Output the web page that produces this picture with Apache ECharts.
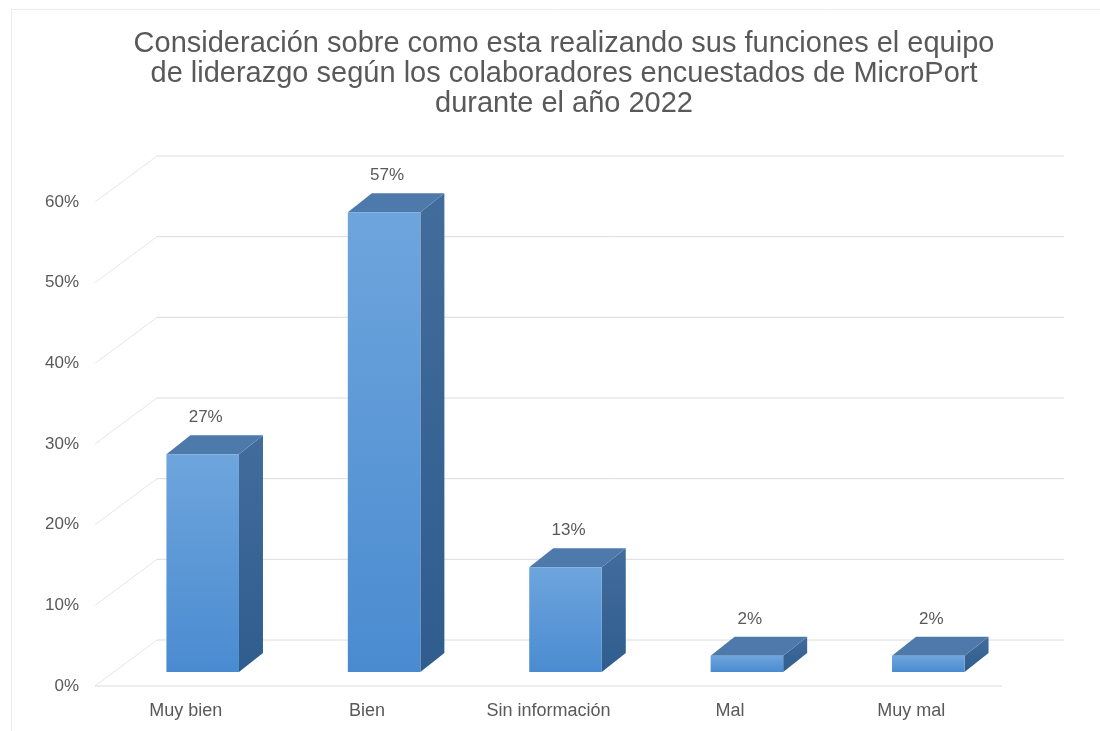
<!DOCTYPE html>
<html>
<head>
<meta charset="utf-8">
<script src="https://cdn.jsdelivr.net/npm/echarts@6/dist/echarts.min.js"></script>
<style>
  html, body { margin: 0; padding: 0; background: #ffffff; }
  #chart { width: 1100px; height: 731px; }
</style>
</head>
<body>
<div id="chart"></div>
<script>
// Survey results: how leadership is doing, as rated by MicroPort staff (2022)
const categories = ['Muy bien', 'Bien', 'Sin información', 'Mal', 'Muy mal'];
const values = [27, 57, 13, 2, 2];
const yTicks = [0, 10, 20, 30, 40, 50, 60];
const titleLines = [
  'Consideración sobre como esta realizando sus funciones el equipo',
  'de liderazgo según los colaboradores encuestados de MicroPort',
  'durante el año 2022'
];

// Oblique projection used for the 3D look
const WALL_DX = 62, WALL_DY = -46;        // floor depth (front edge -> back wall)
const BAR_OFF_X = 17, BAR_OFF_Y = -14;    // bars stand a little behind the front edge
const BAR_DEPTH_X = 24, BAR_DEPTH_Y = -19; // thickness of each bar

const TEXT = '#595959';
const FONT = 'Liberation Sans, Arial, sans-serif';

const chart = echarts.init(document.getElementById('chart'), null, { renderer: 'canvas' });

function renderGridLine(params, api) {
  const cs = params.coordSys;
  const v = api.value(1);
  const y = api.coord([0, v])[1];
  const lineStyle = { stroke: '#dcdcdc', lineWidth: 1, fill: null };
  const children = [
    {
      type: 'polyline',
      shape: { points: [[cs.x, y], [cs.x + WALL_DX, y + WALL_DY]] },
      style: { stroke: '#e6e6e6', lineWidth: 1, fill: null },
      silent: true
    },
    {
      type: 'polyline',
      shape: { points: [[cs.x + WALL_DX, y + WALL_DY], [cs.x + cs.width + WALL_DX, y + WALL_DY]] },
      style: lineStyle,
      silent: true
    }
  ];
  if (v === 0) {
    children.push({
      type: 'polyline',
      shape: { points: [[cs.x, y], [cs.x + cs.width, y]] },
      style: lineStyle,
      silent: true
    });
  }
  return { type: 'group', children: children };
}

function renderBar(params, api) {
  const i = api.value(0);
  const v = api.value(1);
  const base = api.coord([i, 0]);
  const top = api.coord([i, v]);
  const bw = api.size([1, 0])[0] * 0.4;
  const x0 = base[0] - bw / 2 + BAR_OFF_X;
  const x1 = x0 + bw;
  const yb = base[1] + BAR_OFF_Y;
  const yt = top[1] + BAR_OFF_Y;
  const dx = BAR_DEPTH_X, dy = BAR_DEPTH_Y;

  const frontFill = new echarts.graphic.LinearGradient(0, 0, 0, 1, [
    { offset: 0, color: '#6ea5dd' },
    { offset: 1, color: '#4a8bd0' }
  ]);
  const sideFill = new echarts.graphic.LinearGradient(0, 0, 0, 1, [
    { offset: 0, color: '#426c9c' },
    { offset: 1, color: '#2f5d8e' }
  ]);

  return {
    type: 'group',
    children: [
      {
        type: 'polygon',
        shape: { points: [[x1, yt], [x1 + dx, yt + dy], [x1 + dx, yb + dy], [x1, yb]] },
        style: { fill: sideFill }
      },
      {
        type: 'polygon',
        shape: { points: [[x0, yt], [x0 + dx, yt + dy], [x1 + dx, yt + dy], [x1, yt]] },
        style: { fill: '#4e7aab' }
      },
      {
        type: 'rect',
        shape: { x: x0, y: yt, width: bw, height: yb - yt },
        style: { fill: frontFill }
      },
      {
        type: 'text',
        style: {
          text: v + '%',
          x: (x0 + x1) / 2 + 3,
          y: yt + dy - 18,
          align: 'center',
          verticalAlign: 'middle',
          fill: TEXT,
          fontSize: 17,
          fontFamily: FONT
        }
      }
    ]
  };
}

const option = {
  backgroundColor: '#ffffff',
  animation: false,
  title: {
    text: titleLines.join('\n'),
    left: 559,
    top: 24,
    textAlign: 'center',
    textStyle: {
      color: TEXT,
      fontSize: 29,
      lineHeight: 30,
      fontWeight: 'normal',
      fontFamily: FONT
    }
  },
  graphic: [
    {
      type: 'rect',
      left: 9,
      top: 7,
      shape: { width: 1200, height: 800 },
      style: { fill: null, stroke: '#ececec', lineWidth: 1 },
      silent: true,
      z: -10
    }
  ],
  grid: { left: 95, right: 98, top: 202, bottom: 45, containLabel: false },
  xAxis: {
    type: 'category',
    data: categories,
    axisLine: { show: false },
    axisTick: { show: false },
    splitLine: { show: false },
    axisLabel: { color: TEXT, fontSize: 18, fontFamily: FONT, margin: 16 }
  },
  yAxis: {
    type: 'value',
    min: 0,
    max: 60,
    interval: 10,
    axisLine: { show: false },
    axisTick: { show: false },
    splitLine: { show: false },
    axisLabel: { color: TEXT, fontSize: 17, fontFamily: FONT, margin: 16, formatter: '{value}%' }
  },
  series: [
    {
      type: 'custom',
      name: 'grid',
      silent: true,
      z: 1,
      renderItem: renderGridLine,
      encode: { x: 0, y: 1 },
      data: yTicks.map(function (t) { return [0, t]; })
    },
    {
      type: 'custom',
      name: 'Consideración',
      z: 5,
      renderItem: renderBar,
      encode: { x: 0, y: 1 },
      data: values.map(function (v, i) { return [i, v]; })
    }
  ]
};

chart.setOption(option);
</script>
</body>
</html>
